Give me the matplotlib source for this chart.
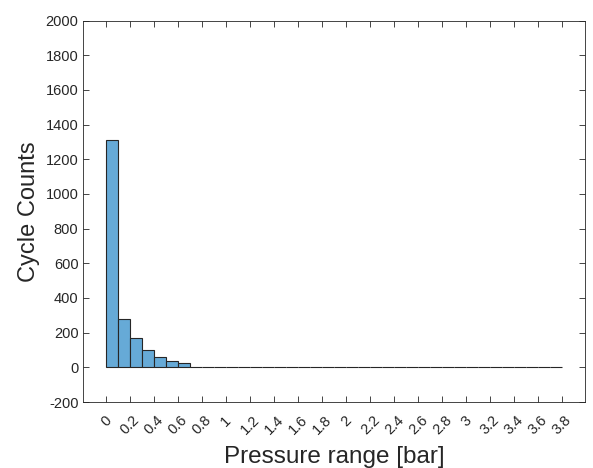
import numpy as np
import matplotlib
matplotlib.use('Agg')
import matplotlib.pyplot as plt

# Histogram counts, bin width 0.1 bar, bins from 0 to 3.8
bin_edges = np.round(np.arange(0, 3.81, 0.1), 2)
counts = [1312, 278, 171, 98, 59, 34, 25, 4, 2, 1,
          1, 1, 1, 1, 1, 1, 1, 0, 0, 0,
          0, 0, 0, 0, 0, 0, 0, 0, 0, 0,
          0, 0, 0, 0, 0, 0, 0, 0]
xticks = np.round(np.arange(0, 3.81, 0.2), 1)
xtick_labels = ['0', '0.2', '0.4', '0.6', '0.8', '1', '1.2', '1.4', '1.6', '1.8',
                '2', '2.2', '2.4', '2.6', '2.8', '3', '3.2', '3.4', '3.6', '3.8']
yticks = np.arange(-200, 2001, 200)

plt.rcParams['font.family'] = ['Liberation Sans', 'DejaVu Sans']
plt.rcParams['axes.unicode_minus'] = False
dark = '#262626'

fig = plt.figure(figsize=(5.93, 4.68), dpi=100)
ax = fig.add_axes([0.1405, 0.141, 0.846, 0.815])

ax.bar(bin_edges[:-1], counts, width=0.1, align='edge',
       color='#66AAD7', edgecolor='#262626', linewidth=0.8)

ax.set_xlim(-0.19, 3.99)
ax.set_ylim(-200, 2000)
ax.set_xticks(xticks)
ax.set_xticklabels(xtick_labels, rotation=45, ha='center', va='top')
ax.set_yticks(yticks)

ax.tick_params(direction='in', length=4, width=0.6, colors=dark,
               labelsize=10.5, top=True, right=True)
ax.tick_params(axis='x', pad=8)
for s in ax.spines.values():
    s.set_color(dark)
    s.set_linewidth(0.6)

ax.set_xlabel('Pressure range [bar]', fontsize=17.5, color=dark, labelpad=6)
ax.set_ylabel('Cycle Counts', fontsize=17, color=dark)

fig.savefig('out.png', dpi=100, facecolor='white')
